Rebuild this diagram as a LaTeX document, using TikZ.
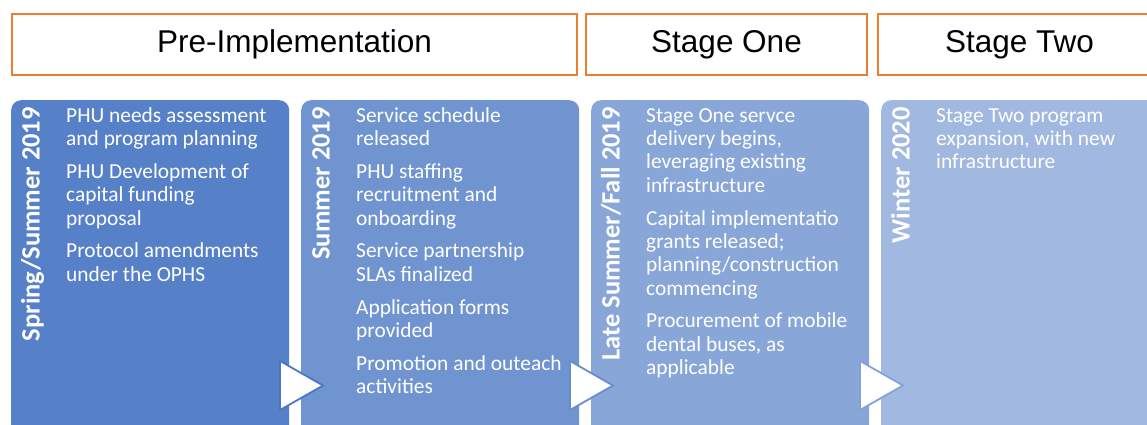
\documentclass[tikz,border=0pt]{standalone}
\usepackage{fontspec}
\setmainfont{Carlito}
\newfontfamily\hdrfont{Liberation Sans}
\definecolor{hdrorange}{HTML}{ED7D31}
\definecolor{cA}{HTML}{5680C8}
\definecolor{cB}{HTML}{6F94D0}
\definecolor{cC}{HTML}{88A6D8}
\definecolor{cD}{HTML}{A1B8E0}
\definecolor{tA}{HTML}{4A78C8}
\definecolor{tB}{HTML}{678DCF}
\definecolor{tC}{HTML}{84A2D8}
\begin{document}
\begin{tikzpicture}[x=1pt,y=-1pt,
  hdr/.style={draw=hdrorange, line width=2pt, minimum height=61pt, inner sep=0pt,
    anchor=north west, font=\hdrfont\fontsize{31.5}{36}\selectfont},
  blk/.style={rounded corners=10pt, minimum height=340pt, minimum width=278pt,
    anchor=north west, inner sep=0pt, draw=none},
  vlab/.style={rotate=90, anchor=base east, text=white, inner sep=0pt,
    font=\bfseries\fontsize{26.5}{30}\selectfont},
  body/.style={anchor=north west, align=left, text=white, inner sep=0pt,
    font=\fontsize{21.4}{23.33}\selectfont},
  tri/.style={fill=white, draw=#1, line width=1.8pt, line join=miter}]
\useasboundingbox (0,0) rectangle (1147,425);
\fill[white] (0,0) rectangle (1147,425);
\begin{scope}
\clip (0,0) rectangle (1147,425);
% headers
\node[hdr, minimum width=565pt] (h1) at (11,13) {Pre-Implementation};
\node[hdr, minimum width=281pt] (h2) at (585,13) {Stage One};
\node[hdr, minimum width=283pt] (h3) at (877,13) {Stage Two};
% blocks
\node[blk, fill=cA] (b1) at (11,100) {};
\node[blk, fill=cB] (b2) at (301,100) {};
\draw[tri=tA] (280,361) -- (323,385.5) -- (280,410) -- cycle;
\node[blk, fill=cC] (b3) at (591,100) {};
\draw[tri=tB] (570,361) -- (613,385.5) -- (570,410) -- cycle;
\node[blk, fill=cD] (b4) at (881,100) {};
\draw[tri=tC] (860,361) -- (903,385.5) -- (860,410) -- cycle;
% vertical labels
\node[vlab] (l1) at (39.5,107) {Spring/Summer 2019};
\node[vlab] (l2) at (329.5,107) {Summer 2019};
\node[vlab] (l3) at (619.5,107) {Late Summer/Fall 2019};
\node[vlab] (l4) at (909.5,107) {Winter 2020};
% body text
\node[body] (t1) at (66,105.7) {\strut PHU needs assessment\\and program planning\\[9.5pt]
  PHU Development of\\capital funding\\proposal\\[9.5pt]
  Protocol amendments\\under the OPHS};
\node[body] (t2) at (356,105.7) {\strut Service schedule\\released\\[9.5pt]
  PHU staffing\\recruitment and\\onboarding\\[9.5pt]
  Service partnership\\SLAs finalized\\[9.5pt]
  Application forms\\provided\\[9.5pt]
  Promotion and outeach\\activities};
\node[body] (t3) at (646,105.7) {\strut Stage One servce\\delivery begins,\\leveraging existing\\infrastructure\\[9.5pt]
  Capital implementatio\\grants released;\\planning/construction\\commencing\\[9.5pt]
  Procurement of mobile\\dental buses, as\\applicable};
\node[body] (t4) at (936,105.7) {\strut Stage Two program\\expansion, with new\\infrastructure};
\end{scope}
\end{tikzpicture}
\end{document}
